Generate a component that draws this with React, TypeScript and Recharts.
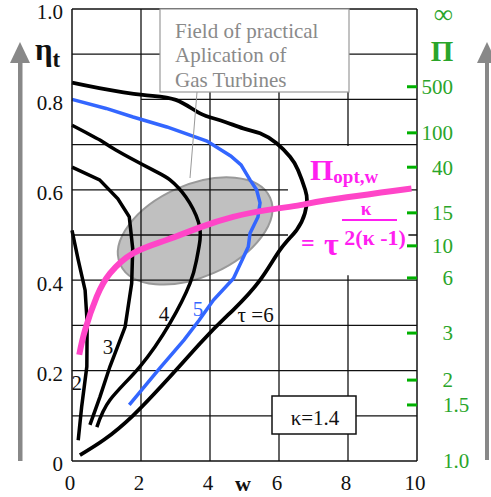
import React from "react";
import { LineChart, Line, XAxis, YAxis, ReferenceLine, ReferenceArea, ReferenceDot } from "recharts";

// each point is [w, eta_t]
type Pt = [number, number];

const TAU2: Pt[] = [
  [0.18, 0.046], [0.28, 0.12], [0.43, 0.209], [0.44, 0.305], [0.38, 0.378], [0.18, 0.445], [0, 0.51],
];
const TAU3: Pt[] = [
  [0.52, 0.08], [0.81, 0.142], [1.1, 0.209], [1.54, 0.297], [1.73, 0.393], [1.76, 0.47],
  [1.66, 0.54], [1.33, 0.58], [0.8, 0.622], [0, 0.65],
];
const TAU4: Pt[] = [
  [0.72, 0.075], [1.1, 0.135], [1.97, 0.209], [2.84, 0.305], [3.42, 0.393], [3.61, 0.445], [3.71, 0.489],
  [3.66, 0.53], [3.3, 0.584], [2.84, 0.622], [2.34, 0.644], [1.27, 0.688], [0.81, 0.71], [0, 0.743],
];
const TAU5: Pt[] = [
  [1.66, 0.124], [2.54, 0.205], [3.25, 0.268], [3.69, 0.312], [4.1, 0.356], [4.68, 0.404], [5.11, 0.474],
  [5.16, 0.504], [5.39, 0.54], [5.45, 0.571], [5.35, 0.6], [5.16, 0.622], [4.9, 0.655], [4.6, 0.675],
  [3.91, 0.708], [2.75, 0.739], [1.77, 0.761], [0.99, 0.78], [0, 0.8],
];
const TAU6: Pt[] = [
  [0.23, 0.013], [1.76, 0.1], [3.71, 0.26], [4.67, 0.334], [5.45, 0.4], [6.03, 0.467], [6.51, 0.511],
  [6.75, 0.548], [6.81, 0.577], [6.76, 0.6], [6.55, 0.644], [6.32, 0.673], [5.93, 0.703], [5.45, 0.725],
  [4.96, 0.736], [4.29, 0.754], [3.71, 0.769], [3.01, 0.799], [2.05, 0.81], [0.79, 0.825], [0, 0.837],
];
const PI_OPT: Pt[] = [
  [0.21, 0.235], [0.38, 0.29], [0.72, 0.364], [1.1, 0.415], [1.78, 0.46], [2.74, 0.489], [3.71, 0.517],
  [4.67, 0.54], [5.64, 0.555], [6.61, 0.566], [7.38, 0.577], [9.84, 0.603],
];

const X_TICKS = [0, 2, 4, 6, 8, 10];
const ETA_TICKS = [0, 0.2, 0.4, 0.6, 0.8, 1.0];
const GRID_ETA = [0.1, 0.2, 0.3, 0.4, 0.5, 0.6, 0.7, 0.9, 1.0];
const GRID_W = [2, 4, 6, 8];
// pressure ratio scale on the right, placed at the matching eta_t
const PI_LABELS = ["1.0", "1.5", "2", "3", "6", "10", "15", "40", "100", "500", "∞"];
const PI_ETA = [0, 0.124, 0.179, 0.283, 0.405, 0.476, 0.549, 0.65, 0.726, 0.828, 0.99];

const SERIF = "'Liberation Serif', 'Times New Roman', Times, serif";
const GREEN = "#2aa52a";
const MAGENTA = "#ff1ff0";
const PINK = "#ff45c8";
const BLUE = "#3366ff";

const toRows = (pts: Pt[]) => pts.map(([w, eta]) => ({ w, eta }));

const curveLabels = [
  { text: "2", w: 0.14, eta: 0.173, color: "#111", anchor: "middle" },
  { text: "3", w: 1.04, eta: 0.254, color: "#111", anchor: "middle" },
  { text: "4", w: 2.67, eta: 0.327, color: "#111", anchor: "middle" },
  { text: "5", w: 3.65, eta: 0.338, color: BLUE, anchor: "middle" },
  { text: "τ =6", w: 4.8, eta: 0.323, color: "#111", anchor: "start" },
];

const serif = { fontFamily: SERIF };

const EtaTick = ({ x, y, payload }: any) => (
  <text x={x} y={y + 3} dy="0.35em" textAnchor="end" fontSize={21} style={serif} fill="#111">
    {payload.value === 0 ? "0" : payload.value.toFixed(1)}
  </text>
);

const WTick = ({ x, y, payload }: any) => (
  <text x={x - 2} y={y + 22} dy="0.35em" textAnchor="middle" fontSize={21} style={serif} fill="#111">
    {payload.value}
  </text>
);

const PiTick = ({ x, y, payload }: any) => {
  const label = PI_LABELS[PI_ETA.indexOf(payload.value)] ?? "";
  const mark = label !== "∞" && label !== "1.0";
  const decimal = label.includes(".");
  return (
    <g>
      {mark && <line x1={x - 10} x2={x} y1={y} y2={y} stroke="#00b000" strokeWidth={3} />}
      <text
        x={decimal ? x + 26 : x + 36}
        y={y}
        dy="0.35em"
        textAnchor={decimal ? "start" : "end"}
        fontSize={label === "∞" ? 27 : 21}
        style={serif}
        fill={GREEN}
      >
        {label}
      </text>
    </g>
  );
};

export default function App() {
  return (
    <div style={{ position: "absolute", left: 0, top: 0, width: 491, height: 497, background: "#fff", fontFamily: SERIF }}>
      <LineChart width={491} height={497} margin={{ top: 9, right: 14, left: 10, bottom: 6 }}>
        <XAxis
          type="number"
          dataKey="w"
          domain={[0, 10]}
          ticks={X_TICKS}
          interval={0}
          tickSize={0}
          tickMargin={0}
          height={30}
          tick={<WTick />}
          axisLine={{ stroke: "#111", strokeWidth: 1.5 }}
        />
        <YAxis
          type="number"
          domain={[0, 1]}
          ticks={ETA_TICKS}
          interval={0}
          tickSize={0}
          tickMargin={9}
          width={62}
          tick={<EtaTick />}
          axisLine={{ stroke: "#111", strokeWidth: 1.5 }}
        />
        <YAxis
          yAxisId="pi"
          orientation="right"
          type="number"
          domain={[0, 1]}
          ticks={PI_ETA}
          interval={0}
          tickSize={0}
          tickMargin={0}
          width={60}
          tick={<PiTick />}
          axisLine={{ stroke: "#111", strokeWidth: 1.5 }}
        />

        {/* practical field of gas turbines */}
        <ReferenceDot
          x={3.57}
          y={0.509}
          zIndex={100}
          shape={(p: any) => (
            <ellipse
              cx={p.cx}
              cy={p.cy}
              rx={82}
              ry={46}
              transform={`rotate(-24 ${p.cx} ${p.cy})`}
              fill="#c0c0c0"
              stroke="#999"
              strokeWidth={2}
            />
          )}
        />

        {GRID_ETA.map((v) => (
          <ReferenceLine key={`h${v}`} y={v} stroke="#111" strokeWidth={1.3} zIndex={150} />
        ))}
        <ReferenceLine
          segment={[{ x: 2, y: 0.8 }, { x: 10, y: 0.8 }]}
          stroke="#111"
          strokeWidth={1.3}
          zIndex={150}
        />
        {GRID_W.map((v) => (
          <ReferenceLine key={`v${v}`} x={v} stroke="#111" strokeWidth={1.3} zIndex={150} />
        ))}

        {/* blank field behind the optimum formula */}
        <ReferenceArea x1={6.26} x2={9.75} y1={0.411} y2={0.697} fill="#fff" fillOpacity={1} stroke="none" zIndex={200} />

        <Line data={toRows(TAU2)} dataKey="eta" type="linear" stroke="#000" strokeWidth={3.5} dot={false} isAnimationActive={false} />
        <Line data={toRows(TAU3)} dataKey="eta" type="linear" stroke="#000" strokeWidth={3.5} dot={false} isAnimationActive={false} />
        <Line data={toRows(TAU4)} dataKey="eta" type="natural" stroke="#000" strokeWidth={3.5} dot={false} isAnimationActive={false} />
        <Line data={toRows(TAU5)} dataKey="eta" type="linear" stroke={BLUE} strokeWidth={3.5} dot={false} isAnimationActive={false} />
        <Line data={toRows(TAU6)} dataKey="eta" type="natural" stroke="#000" strokeWidth={3.8} dot={false} isAnimationActive={false} />
        {/* same 0..1 scale as eta_t, bound to the right axis so it is drawn */}
        <Line yAxisId="pi" data={toRows(PI_OPT)} dataKey="eta" type="natural" stroke={PINK} strokeWidth={6} dot={false} isAnimationActive={false} />

        {curveLabels.map((l) => (
          <ReferenceDot
            key={l.text}
            x={l.w}
            y={l.eta}
            zIndex={2000}
            shape={(p: any) => (
              <text x={p.cx} y={p.cy} dy="0.35em" textAnchor={l.anchor} fontSize={21} style={serif} fill={l.color}>
                {l.text}
              </text>
            )}
          />
        ))}
      </LineChart>

      <svg width={491} height={497} style={{ position: "absolute", left: 0, top: 0, pointerEvents: "none", fontFamily: SERIF }}>
        {/* direction arrows */}
        <rect x={18} y={60} width={4.5} height={401} fill="#888" />
        <polygon points="20,42 10,63 30,63" fill="#888" />
        <rect x={485} y={60} width={4} height={400} fill="#888" />
        <polygon points="487,42 477,63 497,63" fill="#888" />

        <text x={35} y={60} fontSize={31} fontWeight="bold" fill="#111">
          η<tspan fontSize={23} dy={7}>t</tspan>
        </text>
        <text x={442} y={61} textAnchor="middle" fontSize={29} fontWeight="bold" fill={GREEN}>Π</text>
        <text x={243} y={491} textAnchor="middle" fontSize={22} fontWeight="bold" fill="#111">w</text>

        <line x1={197} y1={92} x2={190} y2={178} stroke="#999" strokeWidth={1} />
        <rect x={160} y={9} width={189} height={83} fill="#fff" stroke="#999" strokeWidth={1.2} />
        <text fontSize={21} fill="#8a8a8a">
          <tspan x={175} y={38}>Field of practical</tspan>
          <tspan x={175} y={62}>Aplication of</tspan>
          <tspan x={175} y={87}>Gas Turbines</tspan>
        </text>

        <text x={310} y={180} fontSize={30} fontWeight="bold" fill={MAGENTA}>
          Π<tspan fontSize={19} dy={3}>opt,w</tspan>
        </text>
        <text x={366} y={215} textAnchor="middle" fontSize={19} fontWeight="bold" fill={MAGENTA}>κ</text>
        <line x1={342} x2={397} y1={220} y2={220} stroke={MAGENTA} strokeWidth={2} />
        <text x={375} y={245} textAnchor="middle" fontSize={22} fontWeight="bold" fill={MAGENTA}>2(κ -1)</text>
        <text x={301} y={251} fontSize={24} fontWeight="bold" fill={MAGENTA}>=</text>
        <text x={324} y={255} fontSize={32} fontWeight="bold" fill={MAGENTA}>τ</text>

        <rect x={272} y={396} width={84} height={38} fill="#fff" stroke="#111" strokeWidth={1.5} />
        <text x={315} y={418} dy="0.35em" textAnchor="middle" fontSize={21} fill="#111">κ=1.4</text>
      </svg>
    </div>
  );
}
